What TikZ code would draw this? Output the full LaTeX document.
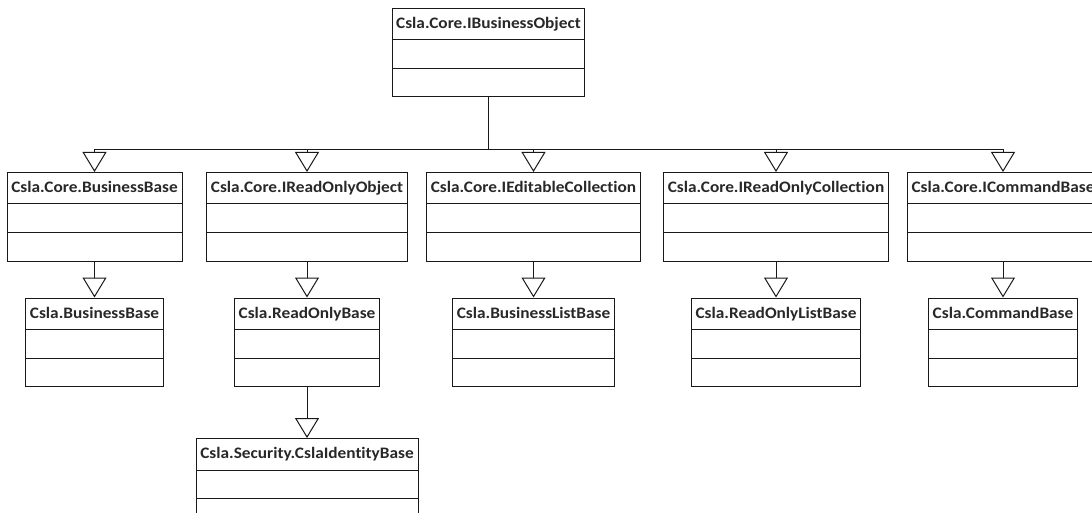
\documentclass[tikz,border=0pt]{standalone}
\usepackage{fontspec}
\setmainfont{Carlito}[FakeStretch=1.08, Ligatures=NoCommon]
\usepackage{tikz}
\usetikzlibrary{shapes.multipart,arrows.meta,positioning}
\definecolor{linea}{RGB}{25,25,25}
\definecolor{texto}{RGB}{40,40,40}

\newcommand{\clase}[1]{\rule[-11pt]{0pt}{30.5pt}#1}

\begin{document}
\begin{tikzpicture}[
    x=1pt, y=1pt,
    every node/.style={font=\bfseries\fontsize{16}{19}\selectfont, text=texto},
    uml/.style={rectangle split, rectangle split parts=3, draw=linea, line width=1pt, inner ysep=0pt, inner xsep=4pt,
        rectangle split empty part height=27.5pt, rectangle split empty part depth=0pt, fill=white, anchor=north},
    gen/.style={-{Triangle[open, length=20pt, width=24pt]}, draw=linea, line width=1pt}
]
\clip (0,0) rectangle (1092,-513);

% Clases
\node[uml, minimum width=191pt] (ibo) at (488.5,-8) {\clase{Csla.Core.IBusinessObject}\nodepart{two}\nodepart{three}};

\node[uml, minimum width=175pt] (corebiz) at (94.5,-172) {\clase{Csla.Core.BusinessBase}\nodepart{two}\nodepart{three}};
\node[uml, minimum width=200pt] (roobj) at (307,-172) {\clase{Csla.Core.IReadOnlyObject}\nodepart{two}\nodepart{three}};
\node[uml, minimum width=213pt] (editcol) at (533.5,-172) {\clase{Csla.Core.IEditableCollection}\nodepart{two}\nodepart{three}};
\node[uml, minimum width=224pt] (rocol) at (776,-172) {\clase{Csla.Core.IReadOnlyCollection}\nodepart{two}\nodepart{three}};
\node[uml, minimum width=190pt] (icmd) at (1003,-172) {\clase{Csla.Core.ICommandBase}\nodepart{two}\nodepart{three}};

\node[uml, minimum width=136pt, below=36pt of corebiz] (bizbase) {\clase{Csla.BusinessBase}\nodepart{two}\nodepart{three}};
\node[uml, minimum width=143pt, below=36pt of roobj] (robase) {\clase{Csla.ReadOnlyBase}\nodepart{two}\nodepart{three}};
\node[uml, minimum width=161pt, below=36pt of editcol] (bizlist) {\clase{Csla.BusinessListBase}\nodepart{two}\nodepart{three}};
\node[uml, minimum width=166pt, below=36pt of rocol] (rolist) {\clase{Csla.ReadOnlyListBase}\nodepart{two}\nodepart{three}};
\node[uml, minimum width=148pt, below=36pt of icmd] (cmdbase) {\clase{Csla.CommandBase}\nodepart{two}\nodepart{three}};

\node[uml, minimum width=222pt, below=51pt of robase] (identity) {\clase{Csla.Security.CslaIdentityBase}\nodepart{two}\nodepart{three}};

% Herencia
\coordinate (barra) at (488.5,-150);
\foreach \hijo in {corebiz,roobj,editcol,rocol,icmd}
    \draw[gen] (ibo.south) -- (barra) -| (\hijo.north);
\foreach \padre/\hijo in {corebiz/bizbase, roobj/robase, editcol/bizlist, rocol/rolist, icmd/cmdbase, robase/identity}
    \draw[gen] (\padre.south) -- (\hijo.north);

\end{tikzpicture}
\end{document}
